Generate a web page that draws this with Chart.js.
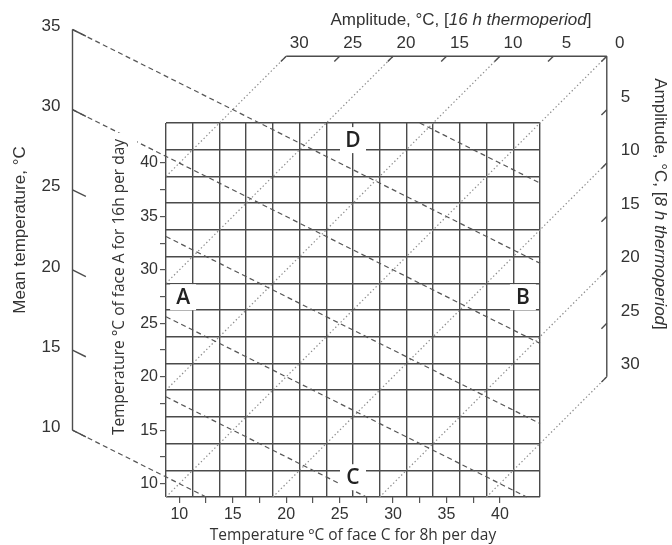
<!DOCTYPE html>
<html>
<head>
<meta charset="utf-8">
<script src="https://cdn.jsdelivr.net/npm/chart.js@4.4.1/dist/chart.umd.min.js"></script>
<style>
  html, body { margin: 0; padding: 0; background: #fff; }
</style>
</head>
<body>
<canvas id="cube" width="672" height="545"></canvas>
<script>
// inner grid: face C (8h) on x, face A (16h) on y, in degrees C
const gridLines = [8.75, 11.25, 13.75, 16.25, 18.75, 21.25, 23.75, 26.25, 28.75, 31.25, 33.75, 36.25, 38.75, 41.25, 43.75];
const faceTicks = [10, 12.5, 15, 17.5, 20, 22.5, 25, 27.5, 30, 32.5, 35, 37.5, 40];
const faceLabels = [10, 15, 20, 25, 30, 35, 40];

// mean temperature, dashed lines where 2A + C = 3 * mean
const meanTicks = [10, 15, 20, 25, 30, 35];
const meanLines = [10, 15, 20, 25, 30, 35, 40];
const meanFromAxis = [10, 30, 35];

// amplitudes, dotted lines (A - C for 16h, C - A for 8h)
const amp16Ticks = [0, 5, 10, 15, 20, 25, 30];
const amp16Lines = [0, 10, 20, 30];
const amp8Ticks = [5, 10, 15, 20, 25, 30];
const amp8Lines = [10, 20, 30];

// face letters
const letters = ['A', 'B', 'C', 'D'];
const letterX = [10.35, 42.15, 26.25, 26.25];
const letterY = [27.45, 27.45, 10.6, 42.15];

const lo = gridLines[0], hi = gridLines[gridLines.length - 1];
const OUTER = 50;  // back edges of the cube (C = 50, A = 50)
const AXIS0 = 0;   // mean temperature axis sits at C = 0

const TXT = '#333';
const OUT_FONT = '17px "Liberation Sans", Arial, sans-serif';
const OUT_ITAL = 'italic 17px "Liberation Sans", Arial, sans-serif';
const IN_FONT = '15.5px "Open Sans", sans-serif';

const solid = { borderColor: '#4d4d4d', borderWidth: 1.4 };
const dashed = { borderColor: '#555', borderWidth: 1.2, borderDash: [5, 3.5] };
const dotted = { borderColor: '#8c8c8c', borderWidth: 1.2, borderDash: [1.4, 2.4] };

const datasets = [];
function seg(p1, p2, style) {
    datasets.push(Object.assign({
        data: [p1, p2], showLine: true, pointRadius: 0, fill: false,
        clip: false, xAxisID: 'x', yAxisID: 'y', borderCapStyle: 'butt'
    }, style));
}

// cube frame
seg({x: AXIS0, y: 1.5 * meanTicks[0]}, {x: AXIS0, y: 1.5 * meanTicks[meanTicks.length - 1]}, solid);
seg({x: OUTER - amp16Ticks[amp16Ticks.length - 1], y: OUTER}, {x: OUTER, y: OUTER}, solid);
seg({x: OUTER, y: OUTER}, {x: OUTER, y: OUTER - amp8Ticks[amp8Ticks.length - 1]}, solid);

// slanted ticks on the outer axes
meanTicks.forEach(m => seg({x: AXIS0, y: 1.5 * m}, {x: AXIS0 + 1.25, y: 1.5 * m - 0.625}, solid));
amp16Ticks.forEach(a => seg({x: OUTER - a, y: OUTER}, {x: OUTER - a - 0.5, y: OUTER - 0.5}, solid));
amp8Ticks.forEach(b => seg({x: OUTER, y: OUTER - b}, {x: OUTER - 0.5, y: OUTER - b - 0.5}, solid));

// constant mean lines, clipped to the grid (some run back to the axis)
meanLines.forEach(m => {
    const s = 3 * m;
    let x0 = Math.max(lo, s - 2 * hi);
    const x1 = Math.min(hi, s - 2 * lo);
    if (meanFromAxis.includes(m)) x0 = AXIS0;
    if (x1 > x0) seg({x: x0, y: (s - x0) / 2}, {x: x1, y: (s - x1) / 2}, dashed);
});

// constant amplitude lines
amp16Lines.forEach(a => seg({x: lo, y: lo + a}, {x: OUTER - a, y: OUTER}, dotted));
amp8Lines.forEach(b => seg({x: lo + b, y: lo}, {x: OUTER, y: OUTER - b}, dotted));

function richText(ctx, parts, x, y, rot) {
    ctx.save();
    ctx.translate(x, y);
    ctx.rotate(rot);
    ctx.textBaseline = 'middle';
    ctx.textAlign = 'left';
    let total = 0;
    const widths = parts.map(p => {
        ctx.font = p.font;
        const w = ctx.measureText(p.text).width;
        total += w;
        return w;
    });
    let cx = -total / 2;
    parts.forEach((p, i) => {
        ctx.font = p.font;
        ctx.fillText(p.text, cx, 0);
        cx += widths[i];
    });
    ctx.restore();
    return total;
}

const annotate = {
    id: 'annotate',
    afterDatasetsDraw(chart) {
        const ctx = chart.ctx;
        const X = v => chart.scales.x.getPixelForValue(v);
        const Y = v => chart.scales.y.getPixelForValue(v);
        ctx.save();
        ctx.fillStyle = TXT;

        // mean temperature axis
        ctx.font = OUT_FONT;
        ctx.textAlign = 'right';
        ctx.textBaseline = 'middle';
        meanTicks.forEach(m => ctx.fillText(String(m), X(AXIS0) - 12, Y(1.5 * m) - 3));
        richText(ctx, [{text: 'Mean temperature, °C', font: OUT_FONT}], 20, 230, -Math.PI / 2);

        // 16h amplitude (top)
        ctx.textAlign = 'center';
        amp16Ticks.forEach(a => ctx.fillText(String(a), X(OUTER - a) + 13, Y(OUTER) - 13));
        richText(ctx, [
            {text: 'Amplitude, °C, [', font: OUT_FONT},
            {text: '16 h thermoperiod', font: OUT_ITAL},
            {text: ']', font: OUT_FONT}
        ], 461, 20, 0);

        // 8h amplitude (right)
        ctx.textAlign = 'left';
        amp8Ticks.forEach(b => ctx.fillText(String(b), X(OUTER) + 14, Y(OUTER - b) - 12.5));
        richText(ctx, [
            {text: 'Amplitude, °C, [', font: OUT_FONT},
            {text: '8 h thermoperiod', font: OUT_ITAL},
            {text: ']', font: OUT_FONT}
        ], 660, 204, Math.PI / 2);

        // inner y title on a white strip
        const yTitle = 'Temperature °C of face A for 16h per day';
        ctx.font = IN_FONT;
        const tw = ctx.measureText(yTitle).width;
        const tx = 120, ty = 287;
        ctx.fillStyle = '#fff';
        ctx.fillRect(tx - 10, ty - tw / 2 - 6, 27, tw + 12);
        ctx.fillStyle = TXT;
        richText(ctx, [{text: yTitle, font: IN_FONT}], tx, ty, -Math.PI / 2);

        // face letters
        ctx.font = '600 21px "Open Sans", sans-serif';
        ctx.textAlign = 'center';
        ctx.textBaseline = 'middle';
        letters.forEach((t, i) => {
            const cx = X(letterX[i]), cy = Y(letterY[i]);
            ctx.fillStyle = '#fff';
            ctx.fillRect(cx - 13, cy - 13, 26, 26);
            ctx.fillStyle = '#222';
            ctx.fillText(t, cx, cy + 1);
        });
        ctx.restore();
    }
};

const gridScale = (axis, position) => ({
    type: 'linear', axis: axis, position: position, min: lo, max: hi,
    afterBuildTicks: s => { s.ticks = gridLines.map(v => ({value: v})); },
    ticks: { display: false },
    grid: { color: '#4a4a4a', lineWidth: 1.4, drawTicks: false },
    border: { display: false }
});

const faceScale = (axis, position) => ({
    type: 'linear', axis: axis, position: position, min: lo, max: hi,
    afterBuildTicks: s => { s.ticks = faceTicks.map(v => ({value: v})); },
    ticks: {
        autoSkip: false, maxRotation: 0, padding: 2, color: TXT,
        font: { family: '"Liberation Sans", Arial, sans-serif', size: 16 },
        callback: v => faceLabels.includes(v) ? String(v) : ''
    },
    grid: { drawOnChartArea: false, drawTicks: true, tickLength: 6, color: '#555', lineWidth: 1.2 },
    border: { display: false }
});

const xScale = faceScale('x', 'bottom');
xScale.title = {
    display: true, text: 'Temperature ºC of face C for 8h per day', color: TXT,
    font: { family: '"Open Sans", sans-serif', size: 15.5 }, padding: 0
};
xScale.afterFit = s => { s.height = 48; };
const yScale = faceScale('y', 'left');
yScale.afterFit = s => { s.width = 30; };

new Chart(document.getElementById('cube'), {
    type: 'scatter',
    data: { datasets: datasets },
    options: {
        responsive: false,
        animation: false,
        events: [],
        layout: { padding: { left: 136, right: 132, top: 123, bottom: 0 } },
        plugins: { legend: { display: false }, tooltip: { enabled: false } },
        scales: {
            xg: gridScale('x', 'bottom'),
            yg: gridScale('y', 'left'),
            x: xScale,
            y: yScale
        }
    },
    plugins: [annotate]
});
</script>
</body>
</html>
